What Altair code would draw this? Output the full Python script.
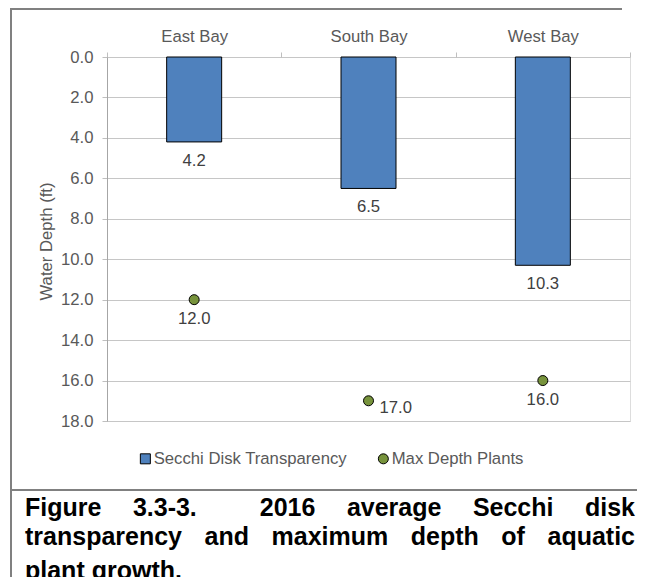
import altair as alt
import pandas as pd

# ---- data ----
sites = ["East Bay", "South Bay", "West Bay"]
secchi = [4.2, 6.5, 10.3]
max_depth = [12.0, 17.0, 16.0]
series_names = ["Secchi Disk Transparency", "Max Depth Plants"]
series_colors = ["#4F81BD", "#77933C"]
series_shapes = ["square", "circle"]
y_ticks = [0, 2, 4, 6, 8, 10, 12, 14, 16, 18]
y_title = "Water Depth  (ft)"
caption_lines = [
    "Figure 3.3-3.  2016 average Secchi disk",
    "transparency and maximum depth of aquatic",
    "plant growth.",
]

FONT = "Liberation Sans"
TXT = "#595959"
FS = 16.7
CAP_SIZE = 25

# Arial Bold advance widths (per em) for justifying the caption like the source document
_W = {
    "a": .556, "b": .611, "c": .556, "d": .611, "e": .556, "f": .333, "g": .611,
    "h": .611, "i": .278, "j": .278, "k": .556, "l": .278, "m": .889, "n": .611,
    "o": .611, "p": .611, "q": .611, "r": .389, "s": .556, "t": .333, "u": .611,
    "v": .556, "w": .778, "x": .556, "y": .556, "z": .5, "F": .611, "S": .667,
    ".": .278, "-": .333, " ": .278,
}


def text_w(s):
    return sum(_W.get(ch, .556) for ch in s) * CAP_SIZE


def justify(line, left, right, full=True):
    """Return (word, x_start) pairs; spaces stretched so the line fills left..right."""
    words = line.split(" ")
    n_spaces = line.count(" ")
    widths = [text_w(w) for w in words if w]
    if full:
        space = (right - left - sum(widths)) / n_spaces
    else:
        space = text_w(" ")
    out, xpos = [], left
    for w in words:
        if w == "":
            xpos += space
            continue
        out.append((w, xpos))
        xpos += text_w(w) + space
    return out


bars_df = pd.DataFrame({"site": sites, "value": secchi, "series": series_names[0]})
pts_df = pd.DataFrame({"site": sites, "value": max_depth, "series": series_names[1]})

x_enc = alt.X(
    "site:N",
    sort=sites,
    scale=alt.Scale(domain=sites, paddingInner=0, paddingOuter=0),
    axis=alt.Axis(
        orient="top", title=None, labelAngle=0, tickBand="extent",
        domain=False, ticks=True, tickSize=5, tickColor="#BFBFBF",
        labelPadding=7, labelFontSize=FS, labelColor=TXT, labelFont=FONT,
        grid=False,
    ),
)
y_enc = alt.Y(
    "value:Q",
    scale=alt.Scale(domain=[0, 18], reverse=True, nice=False),
    axis=alt.Axis(
        values=y_ticks, format=".1f", title=y_title,
        tickSize=5, tickColor="#BFBFBF", domainColor="#A6A6A6",
        gridColor="#C6C6C6", labelPadding=9, labelFontSize=FS,
        labelColor=TXT, labelFont=FONT,
        titleFontSize=FS, titleFontWeight="normal", titleColor=TXT,
        titleFont=FONT, titleX=-61, titleY=184, titleAngle=270,
        titleAlign="center", titleBaseline="middle",
    ),
)
legend = alt.Legend(
    title=None, orient="none", legendX=30, legendY=393,
    direction="horizontal", symbolSize=100, symbolStrokeColor="black",
    symbolStrokeWidth=1, labelFontSize=FS, labelColor=TXT, labelFont=FONT,
    columnPadding=28, labelOffset=0, labelLimit=0,
)
color_enc = alt.Color(
    "series:N", scale=alt.Scale(domain=series_names, range=series_colors),
    legend=legend,
)
shape_enc = alt.Shape(
    "series:N", scale=alt.Scale(domain=series_names, range=series_shapes),
    legend=legend,
)

bars = alt.Chart(bars_df).mark_bar(size=55, stroke="black", strokeWidth=1).encode(
    x=x_enc, y=y_enc, color=color_enc
)
bar_labels = alt.Chart(bars_df).mark_text(
    dy=19, fontSize=FS, color="#404040", font=FONT
).encode(x=x_enc, y=y_enc, text=alt.Text("value:Q", format=".1f"))

points = alt.Chart(pts_df).mark_point(
    filled=True, size=100, stroke="black", strokeWidth=1, opacity=1
).encode(x=x_enc, y=y_enc, color=color_enc, shape=shape_enc)

pt_labels_below = alt.Chart(pts_df).transform_filter(
    alt.datum.site != "South Bay"
).mark_text(dy=19, fontSize=FS, color="#404040", font=FONT).encode(
    x=x_enc, y=y_enc, text=alt.Text("value:Q", format=".1f")
)
pt_labels_right = alt.Chart(pts_df).transform_filter(
    alt.datum.site == "South Bay"
).mark_text(dx=11, dy=7, align="left", fontSize=FS, color="#404040", font=FONT).encode(
    x=x_enc, y=y_enc, text=alt.Text("value:Q", format=".1f")
)

one = pd.DataFrame({"a": [0]})
BORDER = dict(stroke="#808080", strokeWidth=2)
border_top = alt.Chart(one).mark_rule(**BORDER).encode(
    x=alt.value(-97), x2=alt.value(515), y=alt.value(-48)
)
border_bottom = alt.Chart(one).mark_rule(**BORDER).encode(
    x=alt.value(-97), x2=alt.value(530), y=alt.value(433)
)
border_left = alt.Chart(one).mark_rule(**BORDER).encode(
    x=alt.value(-96), y=alt.value(-48), y2=alt.value(540)
)

# caption (plot origin is at page x=107, y=57)
cap_left, cap_right = 25 - 107, 635 - 107
cap_base = [516 - 57, 545 - 57, 579 - 57]
caption_layers = []
for k, (line, yb) in enumerate(zip(caption_lines, cap_base)):
    full = k < len(caption_lines) - 1
    for w, xp in justify(line, cap_left, cap_right, full):
        caption_layers.append(
            alt.Chart(one).mark_text(
                fontSize=CAP_SIZE, fontWeight="bold", font=FONT, color="black",
                align="left", baseline="alphabetic",
            ).encode(x=alt.value(xp), y=alt.value(yb), text=alt.value(w))
        )

chart = alt.layer(
    bars, bar_labels, points, pt_labels_below, pt_labels_right,
    border_top, border_bottom, border_left, *caption_layers,
).properties(
    width=523, height=364,
    autosize=alt.AutoSizeParams(type="none"),
    padding={"left": 99, "top": 49, "right": 8, "bottom": 156},
).configure_view(stroke="#BFBFBF", strokeWidth=1).configure(background="white")

chart.save("out.html", embed_options={"renderer": "svg", "actions": False})
